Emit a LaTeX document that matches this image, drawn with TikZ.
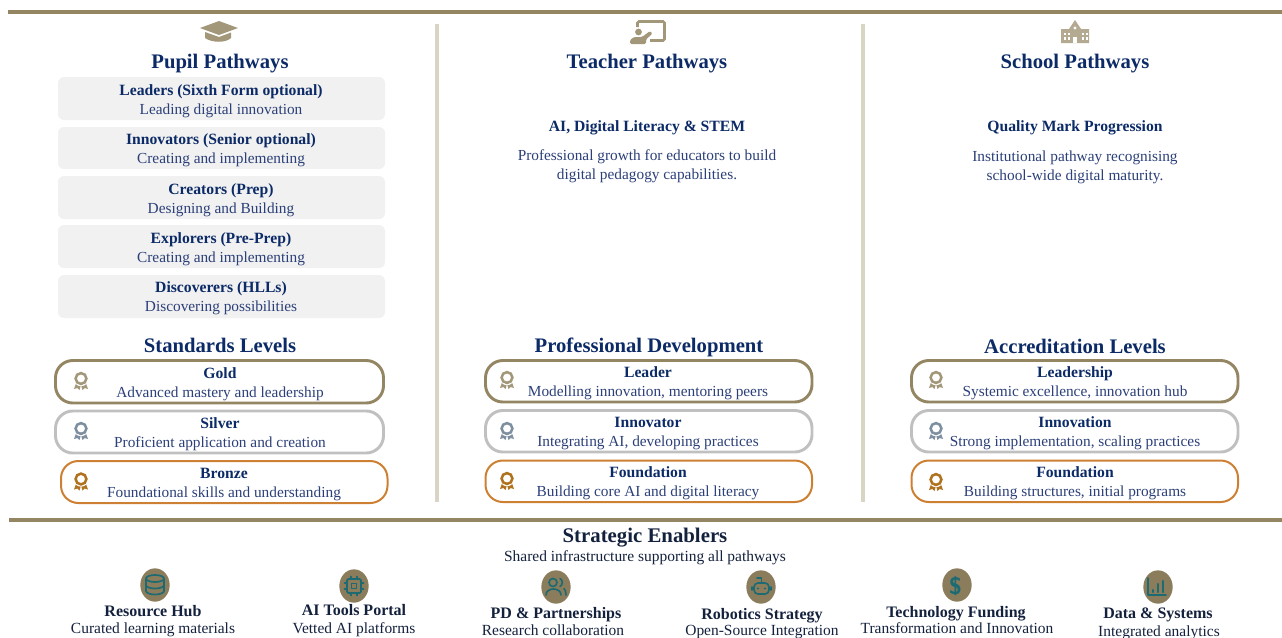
\documentclass[tikz,border=0pt]{standalone}
\usepackage{fontspec}
\setmainfont{Liberation Serif}
\usetikzlibrary{shapes.geometric}
\definecolor{navy}{HTML}{0B2A66}
\definecolor{bodyblue}{HTML}{2B3F78}
\definecolor{darknavy}{HTML}{14213D}
\definecolor{tan}{HTML}{948663}
\definecolor{tandark}{HTML}{8B7D5C}
\definecolor{divider}{HTML}{D8D5C5}
\definecolor{silverc}{HTML}{C0C0C0}
\definecolor{bronzec}{HTML}{CD7F32}
\definecolor{teal}{HTML}{1D6A73}
\definecolor{panel}{HTML}{F1F1F1}
\definecolor{medalgold}{HTML}{A3977A}
\definecolor{medalsilver}{HTML}{7E8F9F}
\definecolor{medalbronze}{HTML}{B0721F}
\tikzset{
  x=0.75pt,y=-0.75pt,
  every node/.style={inner sep=0pt,outer sep=0pt,anchor=base,align=center},
  heading/.style={font=\fontsize{15.5}{18}\bfseries\selectfont,text=navy},
  ttl/.style={font=\fontsize{11.75}{13}\bfseries\selectfont,text=navy},
  sub/.style={font=\fontsize{11.5}{13}\selectfont,text=bodyblue},
  eh/.style={font=\fontsize{15.6}{18}\bfseries\selectfont,text=darknavy},
  et/.style={font=\fontsize{12}{13}\bfseries\selectfont,text=darknavy},
  es/.style={font=\fontsize{11.6}{13}\selectfont,text=darknavy},
  goldbox/.style={draw=tan,line width=2.2pt,rounded corners=13pt},
  silverbox/.style={draw=silverc,line width=2.2pt,rounded corners=13pt},
  bronzebox/.style={draw=bronzec,line width=1.5pt,rounded corners=13pt},
  rule/.style={draw=tan,line width=2.8pt},
  divline/.style={draw=divider,line width=2.4pt},
  disc/.style={ellipse,fill=tandark,minimum width=22pt,minimum height=25pt},
  ic/.style={draw=teal,line width=1.25pt,line cap=round,line join=round,fill=none},
  pics/medal/.style={code={
    \fill[#1] (-4.5,1) -- (-7,8) -- (-3.5,7) -- (-1.5,9) -- (0,4) -- (1.5,9) -- (3.5,7) -- (7,8) -- (4.5,1) -- cycle;
    \fill[white] (0,-2) circle[radius=7.2];
    \draw[draw=#1,line width=1.9pt] (0,-2.5) circle[radius=5.4];
  }},
}
\begin{document}
\begin{tikzpicture}
\useasboundingbox (0,0) rectangle (1282,637);
% rules
\coordinate (ruleTL) at (8,12); \coordinate (ruleTR) at (1282,12);
\coordinate (ruleBL) at (9,520); \coordinate (ruleBR) at (1282,520);
\draw[rule] (ruleTL) -- (ruleTR);
\draw[rule] (ruleBL) -- (ruleBR);
\coordinate (d1a) at (437,24); \coordinate (d1b) at (437,502);
\coordinate (d2a) at (863,24); \coordinate (d2b) at (863,502);
\draw[divline] (d1a) -- (d1b);
\draw[divline] (d2a) -- (d2b);
% cap icon
\fill[medalgold] (219,21) -- (238,28) -- (219,35) -- (200,28) -- cycle;
\fill[medalgold] (205,32) -- (219,37) -- (231,32.5) -- (231,38) .. controls (226,43) and (212,43) .. (205,38) -- cycle;
% teacher icon
\draw[medalgold,line width=1.9pt,rounded corners=1pt] (637.5,27) -- (637.5,21.5) -- (664.5,21.5) -- (664.5,40.5) -- (650,40.5);
\fill[medalgold] (638.5,32) circle[radius=3.4];
\fill[medalgold,rounded corners=1pt] (630,44) -- (630,40) -- (634,37) -- (642,37) -- (650,31) -- (652.5,33.5) -- (646,39.5) -- (646,44) -- cycle;
% school icon
\fill[tan!70] (1061,29) -- (1069,29) -- (1075,20) -- (1081,29) -- (1089,29) -- (1089,43) -- (1061,43) -- cycle;
\fill[white] (1075,28) circle[radius=1.6];
\fill[white] (1073,37) rectangle (1077,43);
\foreach \wx in {1064,1068,1082,1086}{\fill[white] (\wx,32.5) rectangle +(2.2,2.6);\fill[white] (\wx,37) rectangle +(2.2,2.6);}
% Pupil column
\node[heading] (pupil) at (220,68) {Pupil Pathways};
\fill[panel,rounded corners=4.5pt] (58,77) rectangle (385,120);
\fill[panel,rounded corners=4.5pt] (58,127) rectangle (385,169);
\fill[panel,rounded corners=4.5pt] (58,176) rectangle (385,219);
\fill[panel,rounded corners=4.5pt] (58,225) rectangle (385,268);
\fill[panel,rounded corners=4.5pt] (58,275) rectangle (385,318);
\node[ttl] (p1t) at (221,95) {Leaders (Sixth Form optional)};
\node[sub] (p1s) at (221,114.5) {Leading digital innovation};
\node[ttl] (p2t) at (221,144) {Innovators (Senior optional)};
\node[sub] (p2s) at (221,163.5) {Creating and implementing};
\node[ttl] (p3t) at (221,194) {Creators (Prep)};
\node[sub] (p3s) at (221,213) {Designing and Building};
\node[ttl] (p4t) at (221,243) {Explorers (Pre-Prep)};
\node[sub] (p4s) at (221,262.5) {Creating and implementing};
\node[ttl] (p5t) at (221,292) {Discoverers (HLLs)};
\node[sub] (p5s) at (221,311.5) {Discovering possibilities};
\node[heading] (std) at (220,352.5) {Standards Levels};
\draw[goldbox] (55.5,360.5) rectangle (383.5,403);
\draw[silverbox] (55.5,411) rectangle (383.5,453);
\draw[bronzebox] (61,461) rectangle (387.5,503);
\pic at (81,381) {medal=medalgold};
\pic at (81,431) {medal=medalsilver};
\pic at (81,481.5) {medal=medalbronze};
\node[ttl] (g1) at (220,378) {Gold};
\node[sub] (g2) at (220,397) {Advanced mastery and leadership};
\node[ttl] (s1) at (220,428) {Silver};
\node[sub] (s2) at (220,447) {Proficient application and creation};
\node[ttl] (b1) at (224,478) {Bronze};
\node[sub] (b2) at (224,497) {Foundational skills and understanding};
% Teacher column
\node[heading] (teach) at (647,68) {Teacher Pathways};
\node[ttl] (tq) at (647,131.5) {AI, Digital Literacy \& STEM};
\node[sub] (tp1) at (647,160) {Professional growth for educators to build};
\node[sub] (tp2) at (647,179) {digital pedagogy capabilities.};
\node[heading] (pd) at (649,352) {Professional Development};
\draw[goldbox] (485.5,360.5) rectangle (812,402);
\draw[silverbox] (485.5,410.5) rectangle (812,452);
\draw[bronzebox] (485.5,460.5) rectangle (812,502);
\pic at (507,380) {medal=medalgold};
\pic at (507,431) {medal=medalsilver};
\pic at (507,481) {medal=medalbronze};
\node[ttl] (tl1) at (648,377) {Leader};
\node[sub] (tl2) at (648,396.5) {Modelling innovation, mentoring peers};
\node[ttl] (ti1) at (648,427) {Innovator};
\node[sub] (ti2) at (648,446.5) {Integrating AI, developing practices};
\node[ttl] (tf1) at (648,477) {Foundation};
\node[sub] (tf2) at (648,496.5) {Building core AI and digital literacy};
% School column
\node[heading] (school) at (1075,68) {School Pathways};
\node[ttl] (sq) at (1075,131.5) {Quality Mark Progression};
\node[sub] (sp1) at (1075,161) {Institutional pathway recognising};
\node[sub] (sp2) at (1075,180) {school-wide digital maturity.};
\node[heading] (acc) at (1075,353) {Accreditation Levels};
\draw[goldbox] (911.5,360.5) rectangle (1238,402);
\draw[silverbox] (911.5,410.5) rectangle (1238,452);
\draw[bronzebox] (911.5,460.5) rectangle (1238,502);
\pic at (936,380) {medal=medalgold};
\pic at (936,431) {medal=medalsilver};
\pic at (936,482) {medal=medalbronze};
\node[ttl] (sl1) at (1075,377) {Leadership};
\node[sub] (sl2) at (1075,396.5) {Systemic excellence, innovation hub};
\node[ttl] (si1) at (1075,427) {Innovation};
\node[sub] (si2) at (1075,446.5) {Strong implementation, scaling practices};
\node[ttl] (sf1) at (1075,477) {Foundation};
\node[sub] (sf2) at (1075,496.5) {Building structures, initial programs};
% Enablers
\node[eh] (en) at (645,542) {Strategic Enablers};
\node[es] (ens) at (645,561) {Shared infrastructure supporting all pathways};
\node[disc,anchor=center] (e1) at (155,585) {};
\node[disc,anchor=center] (e2) at (354,586) {};
\node[disc,anchor=center] (e3) at (556,587) {};
\node[disc,anchor=center] (e4) at (761,587) {};
\node[disc,anchor=center] (e5) at (957,585) {};
\node[disc,anchor=center] (e6) at (1158,587) {};
% database
\draw[ic] (155,578.5) ellipse[x radius=9,y radius=3.5];
\draw[ic] (146,578.5) -- (146,591) arc[start angle=180,end angle=0,x radius=9,y radius=3.5] -- (164,578.5);
\draw[ic] (146,585) arc[start angle=180,end angle=0,x radius=9,y radius=3.5];
% chip
\draw[ic,rounded corners=1pt] (347,579) rectangle (361,593);
\draw[ic] (351.5,583.5) rectangle (356.5,588.5);
\foreach \q in {351,357}{\draw[ic] (\q,576.5) -- (\q,579);\draw[ic] (\q,593) -- (\q,595.5);}
\foreach \q in {583,589}{\draw[ic] (344.5,\q) -- (347,\q);\draw[ic] (361,\q) -- (363.5,\q);}
% people
\draw[ic] (553,582.5) circle[radius=4];
\draw[ic] (546,595) .. controls (546,587) and (561,587) .. (561,595);
\draw[ic] (560,578.5) .. controls (563,580) and (563,585) .. (560,586.5);
\draw[ic] (564,588.5) .. controls (565.5,590) and (566,592) .. (566,595);
% robot
\draw[ic,rounded corners=3pt] (754,583) rectangle (769,594);
\draw[ic] (761.5,583) -- (761.5,578) -- (757,578);
\draw[ic] (752,587) -- (752,590);
\draw[ic] (771,587) -- (771,590);
\fill[teal] (758,588.5) circle[radius=1.2];
\fill[teal] (765,588.5) circle[radius=1.2];
% dollar
\node[font=\fontsize{18}{20}\bfseries\sffamily,text=teal,anchor=center] (dollar) at (955.5,586) {\$};
% chart
\draw[ic] (1148,578) -- (1148,595) -- (1166,595);
\draw[ic,line width=1.6pt] (1153,590) -- (1153,592);
\draw[ic,line width=1.6pt] (1158,584) -- (1158,592);
\draw[ic,line width=1.6pt] (1163,581) -- (1163,592);
\node[et] (e1t) at (153,616) {Resource Hub};
\node[es] (e1s) at (153,633) {Curated learning materials};
\node[et] (e2t) at (354,615) {AI Tools Portal};
\node[es] (e2s) at (354,633) {Vetted AI platforms};
\node[et] (e3t) at (556,618) {PD \& Partnerships};
\node[es] (e3s) at (553,635) {Research collaboration};
\node[et] (e4t) at (762,619) {Robotics Strategy};
\node[es] (e4s) at (762,635) {Open-Source Integration};
\node[et] (e5t) at (956,617) {Technology Funding};
\node[es] (e5s) at (957,633) {Transformation and Innovation};
\node[et] (e6t) at (1158,618) {Data \& Systems};
\node[es] (e6s) at (1159,636) {Integrated analytics};
\end{tikzpicture}
\end{document}
